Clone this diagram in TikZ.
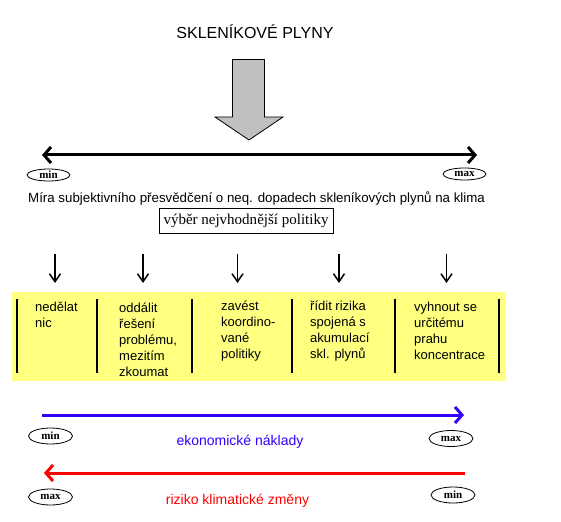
\documentclass[tikz,border=0pt]{standalone}
\usepackage{fontspec}
\setmainfont{Liberation Serif}
\setsansfont{Liberation Sans}
\usepackage{tikz}
\usetikzlibrary{arrows.meta,shapes.geometric,positioning}

\definecolor{arrowgray}{RGB}{192,192,192}
\definecolor{paleyellow}{RGB}{255,255,128}
\definecolor{costblue}{RGB}{51,0,255}
\definecolor{riskred}{RGB}{255,0,0}
\newcommand{\colfont}{\sffamily\fontsize{13}{16}\selectfont}

\tikzset{
  endmark/.style={draw, ellipse, line width=0.8pt, inner sep=0pt,
    minimum width=43pt, minimum height=12pt, font=\bfseries\fontsize{11}{11}\selectfont},
  scalearrow/.style={line width=3pt, >={Straight Barb[length=7pt,width=16pt]}},
  choicearrow/.style={line width=1.5pt, ->, >={Straight Barb[length=8pt,width=11pt]}},
  divider/.style={line width=1.3pt},
  policy/.style={anchor=base west, inner sep=0pt, font=\colfont},
}

\begin{document}
\begin{tikzpicture}[x=1pt,y=-1pt]
    \useasboundingbox (0,0) rectangle (561,521);
    % title and the big arrow
    \node[anchor=base, font=\sffamily\fontsize{16}{16}\selectfont] (title) at (255,39) {SKLENÍKOVÉ PLYNY};
    \filldraw[fill=arrowgray, line width=0.8pt] (232.5,59.5) -- (264.5,59.5) -- (264.5,117) -- (283,117)
        -- (249,140) -- (215,117) -- (232.5,117) -- cycle;

    % conviction scale
    \coordinate (convL) at (42,155);
    \coordinate (convR) at (477,155);
    \draw[scalearrow, <->] (convL) -- (convR);
    \node[endmark] (convmin) at (48.5,175) {min};
    \node[endmark] (convmax) at (464.5,174) {max};
    \node[anchor=base west, inner sep=0pt, font=\sffamily\fontsize{13.3}{15}\selectfont] (convtext) at (28,202)
        {Míra subjektivního přesvědčení o neq. dopadech skleníkových plynů na klima};
    \node[draw, line width=0.8pt, minimum width=174pt, minimum height=25pt, inner sep=0pt,
        font=\fontsize{15}{15}\selectfont] (choice) at (246,220.5) {výběr nejvhodnější politiky};

    % policies
    \foreach \x/\n in {55/a,143/b,237.5/c,339/d,446.5/e} {
        \coordinate (top\n) at (\x,254);
        \coordinate (bot\n) at (\x,283);
        \draw[choicearrow] (top\n) -- (bot\n);
    }
    \fill[paleyellow] (12,292) rectangle (506,381);
    \foreach \x in {17,97,192,292,395,499}
        \draw[divider] (\x,299) -- (\x,373);
    \node[policy] (nothing) at (35,311.5) {\parbox[t]{60pt}{nedělat\\nic}};
    \node[policy] (delay) at (119,312) {\parbox[t]{70pt}{oddálit\\řešení\\problému,\\mezitím\\zkoumat}};
    \node[policy] (coord) at (221,310) {\parbox[t]{70pt}{zavést\\koordino-\\vané\\politiky}};
    \node[policy] (manage) at (310,310) {\parbox[t]{80pt}{řídit rizika\\spojená s\\akumulací\\skl. plynů}};
    \node[policy] (avoid) at (414,311) {\parbox[t]{80pt}{vyhnout se\\určitému\\prahu\\koncentrace}};

    % costs
    \coordinate (costL) at (42,415);
    \coordinate (costR) at (464,415);
    \draw[scalearrow, costblue, ->] (costL) -- (costR);
    \node[endmark, minimum width=44pt, minimum height=16pt] (costmin) at (50.5,436) {min};
    \node[endmark, minimum width=44pt, minimum height=16pt] (costmax) at (451,438.5) {max};
    \node[anchor=base, text=costblue, font=\sffamily\fontsize{14}{14}\selectfont] (costtext) at (240,445) {ekonomické náklady};

    % climate risk
    \coordinate (riskL) at (44,473);
    \coordinate (riskR) at (465,473);
    \draw[scalearrow, riskred, <-] (riskL) -- (riskR);
    \node[endmark, minimum width=44pt, minimum height=16pt] (riskmax) at (50.5,497) {max};
    \node[endmark, minimum width=44pt, minimum height=16pt] (riskmin) at (453,495) {min};
    \node[anchor=base, text=riskred, font=\sffamily\fontsize{14}{14}\selectfont] (risktext) at (237.5,504) {riziko klimatické změny};
\end{tikzpicture}
\end{document}
